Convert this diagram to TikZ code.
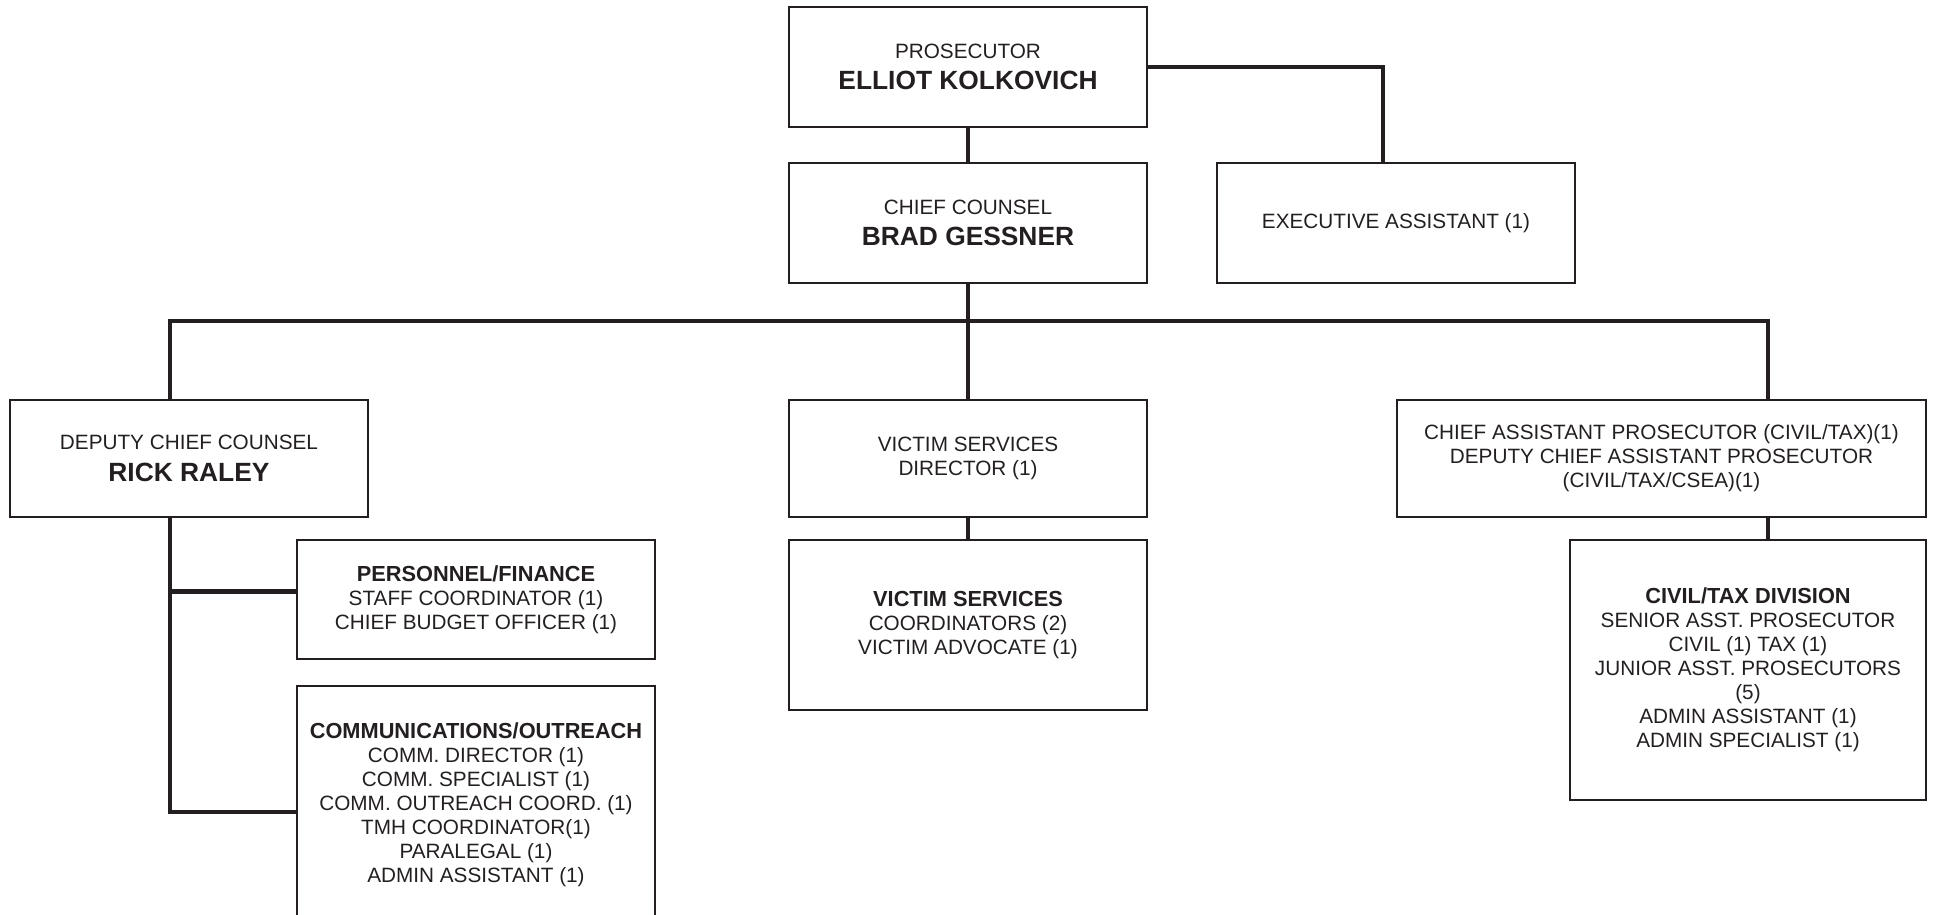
\documentclass[tikz,border=0pt]{standalone}
\usepackage{fontspec}
\setmainfont{Liberation Sans}
\usepackage{xcolor}
\usepackage{tikz}
\usetikzlibrary{calc}

\definecolor{ink}{HTML}{231F20}
\newcommand{\bossname}[1]{{\fontsize{15}{18}\selectfont\bfseries #1}}
\newcommand{\unithead}[1]{{\fontsize{12.4}{13.7}\selectfont\bfseries #1}}

\begin{document}
\begin{tikzpicture}[x=0.02cm, y=-0.02cm,
  box/.style={draw=ink, line width=1.1pt, rectangle, align=center, text=ink,
    minimum width=7.16cm, minimum height=2.4cm, inner sep=2pt,
    font=\fontsize{11.8}{13.7}\selectfont},
  headbox/.style={box, font=\fontsize{11.8}{18}\selectfont},
  link/.style={draw=ink, line width=2.4pt}]
\useasboundingbox (0,0) rectangle (1935,914);
\clip (0,0) rectangle (1935,914);

% top of the office
\node[headbox] (pros) at (968,67) {PROSECUTOR\\\bossname{ELLIOT KOLKOVICH}};
\node[headbox] (chief) at (968,223) {CHIEF COUNSEL\\\bossname{BRAD GESSNER}};
\node[box] (exec) at (1396,223) {EXECUTIVE ASSISTANT (1)};

% second row
\node[headbox, minimum height=2.34cm] (deputy) at (189,458.5) {DEPUTY CHIEF COUNSEL\\\bossname{RICK RALEY}};
\node[box, minimum height=2.34cm] (vdir) at (968,458.5) {VICTIM SERVICES\\DIRECTOR (1)};
\node[box, minimum width=10.58cm, minimum height=2.34cm] (casst) at (1661.5,458.5)
  {CHIEF ASSISTANT PROSECUTOR (CIVIL/TAX)(1)\\DEPUTY CHIEF ASSISTANT PROSECUTOR\\(CIVIL/TAX/CSEA)(1)};

% units
\node[box, minimum height=2.38cm] (pers) at (476,599.5)
  {\unithead{PERSONNEL/FINANCE}\\STAFF COORDINATOR (1)\\CHIEF BUDGET OFFICER (1)};
\node[box, minimum height=4.76cm] (comms) at (476,805)
  {\unithead{COMMUNICATIONS/OUTREACH}\\COMM. DIRECTOR (1)\\COMM. SPECIALIST (1)\\COMM. OUTREACH COORD. (1)\\TMH COORDINATOR(1)\\PARALEGAL (1)\\ADMIN ASSISTANT (1)};
\node[box, minimum height=3.4cm] (vserv) at (968,625)
  {\unithead{VICTIM SERVICES}\\COORDINATORS (2)\\VICTIM ADVOCATE (1)};
\node[box, minimum width=7.12cm, minimum height=5.2cm] (civil) at (1748,670)
  {\unithead{CIVIL/TAX DIVISION}\\SENIOR ASST. PROSECUTOR\\CIVIL (1) TAX (1)\\JUNIOR ASST. PROSECUTORS\\(5)\\ADMIN ASSISTANT (1)\\ADMIN SPECIALIST (1)};

% reporting lines
\coordinate (busL) at (170,321);
\coordinate (busR) at (1768,321);
\draw[link] (pros) -- (chief);
\draw[link] (pros.east) -| ($(exec.north)+(-13,0)$);
\draw[link] (chief) -- (vdir);
\draw[link] (busL |- deputy.north) -- (busL) -- (busR) -- (busR |- casst.north);
\draw[link] (busR |- casst.south) -- (busR |- civil.north);
\draw[link] (vdir) -- (vserv);
\draw[link] (deputy.south -| busL) |- ($(comms.west)+(0,7)$);
\draw[link] (busL |- pers.west) ++(0,-8) -- ($(pers.west)+(0,-8)$);
\end{tikzpicture}
\end{document}
